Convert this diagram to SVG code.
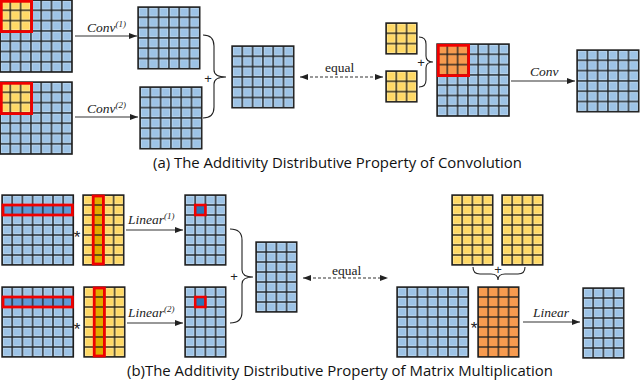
<svg xmlns="http://www.w3.org/2000/svg" width="640" height="384" viewBox="0 0 640 384">
<defs>
  <pattern id="pB" patternUnits="userSpaceOnUse" width="10.3" height="10.3">
    <rect width="10.3" height="10.3" fill="#9DC3E6" stroke="#1e1e1e" stroke-width="1.3"/>
    <rect x="1.4" y="1.4" width="7.5" height="7.5" fill="none" stroke="#b9d5ee" stroke-width="0.8"/>
  </pattern>
  <pattern id="pY" patternUnits="userSpaceOnUse" width="10.3" height="10.3">
    <rect width="10.3" height="10.3" fill="#FFD966" stroke="#1e1e1e" stroke-width="1.3"/>
    <rect x="1.4" y="1.4" width="7.5" height="7.5" fill="none" stroke="#ffe590" stroke-width="0.8"/>
  </pattern>
  <pattern id="pO" patternUnits="userSpaceOnUse" width="10.3" height="10.3">
    <rect width="10.3" height="10.3" fill="#F79B4F" stroke="#1e1e1e" stroke-width="1.3"/>
  </pattern>
  <pattern id="qB" patternUnits="userSpaceOnUse" width="10.2" height="10">
    <rect width="10.2" height="10" fill="#9DC3E6" stroke="#1e1e1e" stroke-width="1.3"/>
    <rect x="1.4" y="1.4" width="7.4" height="7.2" fill="none" stroke="#b9d5ee" stroke-width="0.8"/>
  </pattern>
  <pattern id="qY" patternUnits="userSpaceOnUse" width="10.2" height="10">
    <rect width="10.2" height="10" fill="#FFD966" stroke="#1e1e1e" stroke-width="1.3"/>
    <rect x="1.4" y="1.4" width="7.4" height="7.2" fill="none" stroke="#ffe590" stroke-width="0.8"/>
  </pattern>
  <pattern id="qO" patternUnits="userSpaceOnUse" width="10.2" height="10">
    <rect width="10.2" height="10" fill="#F79B4F" stroke="#1e1e1e" stroke-width="1.3"/>
  </pattern>
  <pattern id="qBd" patternUnits="userSpaceOnUse" width="10.2" height="10">
    <rect width="10.2" height="10" fill="#5F9AD6" stroke="#1e1e1e" stroke-width="1.3"/>
  </pattern>
  <pattern id="qYd" patternUnits="userSpaceOnUse" width="10.2" height="10">
    <rect width="10.2" height="10" fill="#E2AC00" stroke="#1e1e1e" stroke-width="1.3"/>
  </pattern>
  <marker id="ah" viewBox="0 0 8 6" refX="8" refY="3" markerWidth="8" markerHeight="6" markerUnits="userSpaceOnUse" orient="auto-start-reverse">
    <path d="M0,0 L8,3 L0,6 Z" fill="#222"/>
  </marker>
  <style>
    .frame{fill:none;stroke:#1e1e1e;stroke-width:1.4}
    .red{fill:none;stroke:#F00000;stroke-width:2.8}
    .ln{fill:none;stroke:#333;stroke-width:1.1}
    .dash{fill:none;stroke:#333;stroke-width:1.1;stroke-dasharray:3 2}
    .brace{fill:none;stroke:#222;stroke-width:1.1}
    .lab{font-family:"Liberation Serif","Times New Roman","DejaVu Serif",serif;font-style:italic;font-size:13.5px;fill:#222}
    .sup{font-size:9px}
    .eq{font-family:"Liberation Serif","Times New Roman","DejaVu Serif",serif;font-size:13.5px;fill:#222}
    .op{font-family:"Liberation Sans",sans-serif;font-size:13px;fill:#222}
    .star{font-family:"Liberation Sans",sans-serif;font-size:17px;fill:#222}
    .cap{font-family:"Open Sans",sans-serif;font-size:14.5px;fill:#111}
  </style>
</defs>
<rect width="640" height="384" fill="#fff"/>

<!-- (a) Convolution -->
<g id="in1" transform="translate(0,0)">
  <rect width="72.1" height="72.1" fill="url(#pB)"/><rect width="72.1" height="72.1" class="frame"/>
  <rect width="30.9" height="30.9" fill="url(#pY)"/><rect x="1.3" y="1.3" width="30.3" height="30.3" class="red"/>
</g>
<g id="in2" transform="translate(0,82)">
  <rect width="72.1" height="72.1" fill="url(#pB)"/><rect width="72.1" height="72.1" class="frame"/>
  <rect width="30.9" height="30.9" fill="url(#pY)"/><rect x="1.3" y="1.3" width="30.3" height="30.3" class="red"/>
</g>
<g id="out1" transform="translate(138,7)">
  <rect width="61.8" height="61.8" fill="url(#pB)"/><rect width="61.8" height="61.8" class="frame"/>
</g>
<g id="out2" transform="translate(140,87)">
  <rect width="61.8" height="61.8" fill="url(#pB)"/><rect width="61.8" height="61.8" class="frame"/>
</g>
<g id="sum" transform="translate(232,46)">
  <rect width="61.8" height="61.8" fill="url(#pB)"/><rect width="61.8" height="61.8" class="frame"/>
</g>
<g id="k1" transform="translate(386,23)">
  <rect width="30.9" height="30.9" fill="url(#pY)"/><rect width="30.9" height="30.9" class="frame"/>
</g>
<g id="k2" transform="translate(386,71)">
  <rect width="30.9" height="30.9" fill="url(#pY)"/><rect width="30.9" height="30.9" class="frame"/>
</g>
<g id="inBig" transform="translate(437,44)">
  <rect width="72.1" height="72.1" fill="url(#pB)"/><rect width="72.1" height="72.1" class="frame"/>
  <rect width="30.9" height="30.9" fill="url(#pO)"/><rect x="1.3" y="1.3" width="30.3" height="30.3" class="red"/>
</g>
<g id="outC" transform="translate(577,50)">
  <rect width="61.8" height="61.8" fill="url(#pB)"/><rect width="61.8" height="61.8" class="frame"/>
</g>

<!-- (b) Matrix multiplication -->
<g id="X1" transform="translate(2,195)">
  <rect width="71.4" height="70" fill="url(#qB)"/>
  <rect y="10" width="71.4" height="10" fill="url(#qBd)"/>
  <rect width="71.4" height="70" class="frame"/>
  <rect x="1" y="10" width="69.4" height="10" class="red"/>
</g>
<g id="W1" transform="translate(83,195)">
  <rect width="40.8" height="70" fill="url(#qY)"/>
  <rect x="10.2" width="10.2" height="70" fill="url(#qYd)"/>
  <rect width="40.8" height="70" class="frame"/>
  <rect x="10.2" y="1" width="10.2" height="68" class="red"/>
</g>
<g id="Y1" transform="translate(185,195)">
  <rect width="40.8" height="70" fill="url(#qB)"/>
  <rect width="40.8" height="70" class="frame"/>
  <rect x="10.2" y="10" width="10.2" height="10" fill="#2E75B6" stroke="#F00000" stroke-width="2.6"/>
</g>
<g id="X2" transform="translate(2,287)">
  <rect width="71.4" height="70" fill="url(#qB)"/>
  <rect y="10" width="71.4" height="10" fill="url(#qBd)"/>
  <rect width="71.4" height="70" class="frame"/>
  <rect x="1" y="10" width="69.4" height="10" class="red"/>
</g>
<g id="W2" transform="translate(84,287)">
  <rect width="40.8" height="70" fill="url(#qY)"/>
  <rect x="10.2" width="10.2" height="70" fill="url(#qYd)"/>
  <rect width="40.8" height="70" class="frame"/>
  <rect x="10.2" y="1" width="10.2" height="68" class="red"/>
</g>
<g id="Y2" transform="translate(185,287)">
  <rect width="40.8" height="70" fill="url(#qB)"/>
  <rect width="40.8" height="70" class="frame"/>
  <rect x="10.2" y="10" width="10.2" height="10" fill="#2E75B6" stroke="#F00000" stroke-width="2.6"/>
</g>
<g id="Ysum" transform="translate(256,242)">
  <rect width="40.8" height="70" fill="url(#qB)"/><rect width="40.8" height="70" class="frame"/>
</g>
<g id="Wa" transform="translate(452,195)">
  <rect width="40.8" height="70" fill="url(#qY)"/><rect width="40.8" height="70" class="frame"/>
</g>
<g id="Wb" transform="translate(502,195)">
  <rect width="40.8" height="70" fill="url(#qY)"/><rect width="40.8" height="70" class="frame"/>
</g>
<g id="Xbig" transform="translate(397,287)">
  <rect width="71.4" height="70" fill="url(#qB)"/><rect width="71.4" height="70" class="frame"/>
</g>
<g id="Wsum" transform="translate(478,287)">
  <rect width="40.8" height="70" fill="url(#qO)"/><rect width="40.8" height="70" class="frame"/>
</g>
<g id="Yout" transform="translate(583,288)">
  <rect width="40.8" height="70" fill="url(#qB)"/><rect width="40.8" height="70" class="frame"/>
</g>

<g id="connectors">
  <path class="ln" d="M75,36 H137" marker-end="url(#ah)"/>
  <path class="ln" d="M75,117 H138" marker-end="url(#ah)"/>
  <path class="dash" d="M300,77 H383" marker-start="url(#ah)" marker-end="url(#ah)"/>
  <path class="ln" d="M511,81 H575" marker-end="url(#ah)"/>
  <path class="ln" d="M126,230 H183" marker-end="url(#ah)"/>
  <path class="ln" d="M127,323 H183" marker-end="url(#ah)"/>
  <path class="dash" d="M303,278 H388" marker-start="url(#ah)" marker-end="url(#ah)"/>
  <path class="ln" d="M523,322 H580" marker-end="url(#ah)"/>
  <path class="brace" d="M203,35 Q214,35 214,46 L214,70 Q214,77 226,77 Q214,77 214,84 L214,107 Q214,118 203,118"/>
  <path class="brace" d="M419,37 Q426,37 426,44 L426,56 Q426,62 433,62 Q426,62 426,68 L426,80 Q426,87 419,87"/>
  <path class="brace" d="M230,229 Q242,229 242,240 L242,270 Q242,277 253,277 Q242,277 242,284 L242,312 Q242,323 230,323"/>
  <path class="brace" d="M473,267 Q473,274 480,274 L491,274 Q498,274 498,280 Q498,274 505,274 L518,274 Q525,274 525,267"/>
</g>

<g id="labels">
  <text class="lab" x="87" y="32">Conv<tspan class="sup" dy="-5">(1)</tspan></text>
  <text class="lab" x="87" y="113">Conv<tspan class="sup" dy="-5">(2)</tspan></text>
  <text class="lab" x="530" y="76">Conv</text>
  <text class="eq" x="325" y="72">equal</text>
  <text class="eq" x="332" y="275">equal</text>
  <text class="lab" x="128" y="224">Linear<tspan class="sup" dy="-5">(1)</tspan></text>
  <text class="lab" x="128" y="317">Linear<tspan class="sup" dy="-5">(2)</tspan></text>
  <text class="lab" x="533" y="317">Linear</text>
  <text class="op" x="208" y="83" text-anchor="middle">+</text>
  <text class="op" x="421" y="67" text-anchor="middle">+</text>
  <text class="op" x="234" y="281" text-anchor="middle">+</text>
  <text class="op" x="498" y="274" text-anchor="middle">+</text>
  <text class="star" x="77" y="243" text-anchor="middle">*</text>
  <text class="star" x="77" y="335" text-anchor="middle">*</text>
  <text class="star" x="474" y="334" text-anchor="middle">*</text>
  <text class="cap" x="153" y="168" textLength="369" lengthAdjust="spacingAndGlyphs">(a) The Additivity Distributive Property of Convolution</text>
  <text class="cap" x="127" y="376" textLength="426" lengthAdjust="spacingAndGlyphs">(b)The Additivity Distributive Property of Matrix Multiplication</text>
</g>
</svg>
